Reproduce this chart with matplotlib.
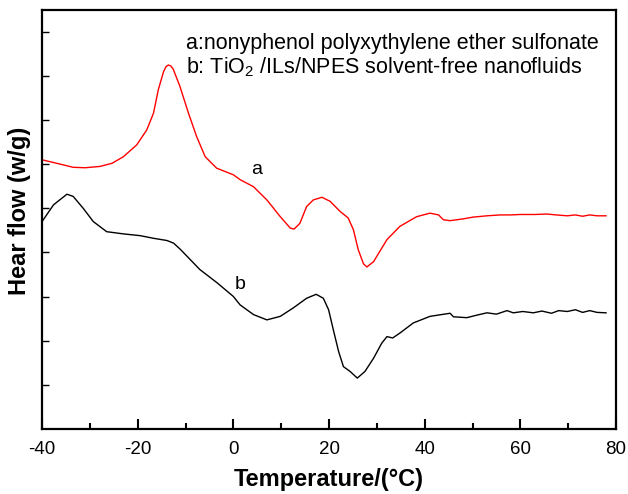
import numpy as np
import matplotlib as mpl
mpl.use("Agg")
import matplotlib.pyplot as plt

mpl.rcParams['font.family'] = ['Liberation Sans', 'DejaVu Sans']
mpl.rcParams['axes.unicode_minus'] = False
mpl.rcParams['mathtext.fontset'] = 'custom'
mpl.rcParams['mathtext.rm'] = 'Liberation Sans'

# curve a: nonyphenol polyxythylene ether sulfonate (red)
temp_a = [-40.0, -36.9, -33.5, -31.0, -27.9, -25.4, -23.0, -20.2, -18.1, -16.7, -15.7,
          -14.6, -14.1, -13.6, -13.1, -12.6, -11.2, -9.4, -7.7, -5.9, -3.5, 0.0, 1.4, 4.2,
          7.0, 9.8, 11.9, 12.7, 13.9, 15.3, 16.7, 18.5, 20.2, 22.3, 24.0, 25.1, 26.1, 27.2,
          27.9, 29.3, 32.1, 34.8, 38.3, 41.1, 42.9, 43.9, 45.3, 48, 50.1, 53, 55.8, 58, 60,
          63, 65.6, 67.5, 69.8, 71.5, 73, 74.5, 76, 77.9]
flow_a = [6.10, 6.02, 5.93, 5.92, 5.95, 6.02, 6.17, 6.44, 6.78, 7.16, 7.69,
          8.10, 8.21, 8.25, 8.23, 8.16, 7.77, 7.16, 6.63, 6.17, 5.91, 5.76, 5.65, 5.49,
          5.19, 4.81, 4.55, 4.53, 4.66, 5.04, 5.19, 5.25, 5.16, 4.93, 4.78, 4.51, 4.06, 3.74,
          3.67, 3.79, 4.29, 4.59, 4.81, 4.89, 4.85, 4.74, 4.72, 4.76, 4.80, 4.83, 4.85, 4.85, 4.86,
          4.86, 4.87, 4.85, 4.83, 4.85, 4.82, 4.85, 4.83, 4.83]

# curve b: TiO2/ILs/NPES solvent-free nanofluids (black)
temp_b = [-40.0, -37.6, -34.8, -33.5, -31.4, -29.3, -26.5, -23.0, -19.5, -16.7, -13.9,
          -12.5, -11.1, -7.0, -3.4, 0.0, 1.4, 4.2, 7.0, 9.8, 12.5, 15.3, 17.3, 18.8,
          19.9, 20.9, 22.0, 23.0, 24.4, 25.9, 27.5, 29.3, 31.0, 32.1, 33.3, 34.8, 37.6,
          41.1, 45.3, 46.0, 48.8, 51, 53, 55, 57.2, 58.5, 60.5, 62.7, 64.5, 66.5, 68,
          69.8, 71.5, 73, 74.5, 76, 77.9]
flow_b = [4.70, 5.08, 5.32, 5.27, 5.00, 4.70, 4.47, 4.42, 4.38, 4.32, 4.27,
          4.21, 4.07, 3.61, 3.31, 3.00, 2.81, 2.59, 2.47, 2.55, 2.74, 2.96, 3.05, 2.96,
          2.70, 2.24, 1.75, 1.41, 1.30, 1.15, 1.30, 1.60, 1.94, 2.09, 2.06, 2.17, 2.40,
          2.55, 2.62, 2.54, 2.52, 2.58, 2.63, 2.60, 2.68, 2.63, 2.66, 2.63, 2.67, 2.62, 2.68,
          2.66, 2.70, 2.64, 2.68, 2.64, 2.63]

fig = plt.figure(figsize=(6.28, 4.94), dpi=100)
ax = fig.add_axes([0.067, 0.132, 0.914, 0.848])

ax.plot(temp_a, flow_a, color='red', lw=1.0)
ax.plot(temp_b, flow_b, color='black', lw=1.0)

ax.set_xlim(-40, 80)
ax.set_ylim(0, 9.5)
ax.set_xticks(np.arange(-40, 81, 20))
ax.set_xticks(np.arange(-30, 80, 20), minor=True)
ax.set_yticks(np.arange(1, 10, 1))
ax.set_yticklabels([])
ax.tick_params(axis='both', which='major', direction='in', length=7, width=1.5,
               labelsize=13.5, top=False, right=False, pad=9)
ax.tick_params(axis='x', which='minor', direction='in', length=4, width=1.5, top=False)
ax.tick_params(axis='y', which='major', length=5, width=1.0)
for s in ax.spines.values():
    s.set_linewidth(1.6)

ax.set_xlabel('Temperature/(°C)', fontsize=17, fontweight='bold', va='center')
ax.set_ylabel('Hear flow (w/g)', fontsize=17, fontweight='bold', va='center')
ax.xaxis.set_label_coords(0.5, -0.122)
ax.yaxis.set_label_coords(-0.040, 0.52)

ax.text(-9.9, 8.62, 'a:nonyphenol polyxythylene ether sulfonate', fontsize=15.5, va='baseline')
ax.text(-9.9, 8.05, 'b: TiO$_2$ /ILs/NPES solvent-free nanofluids', fontsize=15.5, va='baseline')
ax.text(4.95, 5.87, 'a', fontsize=14, ha='center', va='center')
ax.text(1.4, 3.27, 'b', fontsize=14, ha='center', va='center')

fig.savefig('out.png', dpi=100)
